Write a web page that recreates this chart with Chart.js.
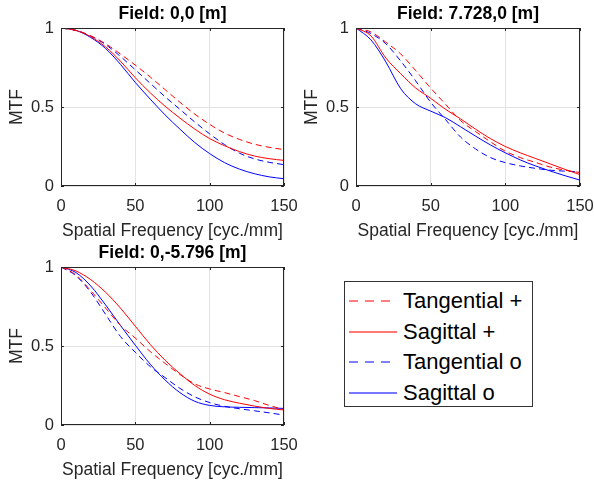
<!DOCTYPE html>
<html>
<head>
<meta charset="utf-8">
<script src="https://cdn.jsdelivr.net/npm/chart.js@4.4.1/dist/chart.umd.min.js"></script>
<style>
  body { margin: 0; background: #fff; }
  #wrap { position: relative; width: 594px; height: 480px; overflow: hidden; }
  canvas { position: absolute; }
  #legend {
    position: absolute; left: 344px; top: 281px; width: 187px; height: 124px;
    border: 1px solid #333; font-family: "Liberation Sans", Arial, sans-serif;
    font-size: 22px; color: #000;
  }
  .row { position: absolute; left: 4px; height: 30px; line-height: 30px; white-space: nowrap; }
  .row svg { position: absolute; left: 0; top: 0; }
  .row span { position: absolute; left: 54px; top: 0; }
</style>
</head>
<body>
<div id="wrap">
  <canvas id="c1" width="300" height="244" style="left:0;top:0"></canvas>
  <canvas id="c2" width="299" height="244" style="left:295px;top:0"></canvas>
  <canvas id="c3" width="300" height="244" style="left:0;top:239px"></canvas>
  <div id="legend"></div>
</div>
<script>
// data
const freq = [0, 10, 20, 30, 40, 50, 60, 70, 80, 90, 100, 110, 120, 130, 140, 150];
const seriesNames = ["Tangential +", "Sagittal +", "Tangential o", "Sagittal o"];
const titles = ["Field: 0,0 [m]", "Field: 7.728,0 [m]", "Field: 0,-5.796 [m]"];

// Field 0,0
const tanPlus1 = [1, 0.985, 0.95, 0.9, 0.835, 0.765, 0.69, 0.61, 0.53, 0.455, 0.39, 0.335, 0.295, 0.265, 0.245, 0.23];
const sagPlus1 = [1, 0.985, 0.945, 0.88, 0.79, 0.685, 0.59, 0.505, 0.43, 0.36, 0.3, 0.255, 0.218, 0.19, 0.173, 0.162];
const tanO1 = [1, 0.985, 0.95, 0.895, 0.82, 0.735, 0.65, 0.565, 0.485, 0.405, 0.33, 0.262, 0.208, 0.172, 0.15, 0.135];
const sagO1 = [1, 0.985, 0.94, 0.87, 0.77, 0.655, 0.55, 0.45, 0.36, 0.275, 0.205, 0.148, 0.107, 0.078, 0.058, 0.046];

// Field 7.728,0
const tanPlus2 = [1, 0.975, 0.91, 0.835, 0.73, 0.62, 0.517, 0.414, 0.345, 0.28, 0.22, 0.18, 0.15, 0.12, 0.1, 0.085];
const sagPlus2 = [1, 0.95, 0.81, 0.71, 0.62, 0.555, 0.485, 0.425, 0.36, 0.3, 0.25, 0.21, 0.175, 0.14, 0.105, 0.072];
const tanO2 = [1, 0.965, 0.9, 0.79, 0.665, 0.53, 0.42, 0.31, 0.235, 0.18, 0.148, 0.127, 0.112, 0.1, 0.094, 0.09];
const sagO2 = [1, 0.925, 0.785, 0.615, 0.52, 0.474, 0.432, 0.375, 0.316, 0.26, 0.21, 0.165, 0.128, 0.095, 0.065, 0.037];

// Field 0,-5.796
const tanPlus3 = [1, 0.95, 0.85, 0.74, 0.63, 0.55, 0.465, 0.39, 0.32, 0.26, 0.228, 0.205, 0.18, 0.155, 0.124, 0.098];
const sagPlus3 = [1, 0.975, 0.92, 0.84, 0.74, 0.625, 0.51, 0.41, 0.325, 0.25, 0.195, 0.16, 0.138, 0.12, 0.105, 0.095];
const tanO3 = [1, 0.945, 0.84, 0.7, 0.56, 0.46, 0.37, 0.3, 0.232, 0.178, 0.142, 0.118, 0.103, 0.09, 0.077, 0.063];
const sagO3 = [1, 0.965, 0.88, 0.76, 0.63, 0.505, 0.385, 0.285, 0.205, 0.15, 0.124, 0.115, 0.112, 0.11, 0.108, 0.105];

const xTicks = [0, 50, 100, 150];
const yTicks = [0, 0.5, 1];

const FONT = '"Liberation Sans", Arial, sans-serif';
const TEXT = '#262626';
const colors = ["#ff0000", "#ff0000", "#0000ff", "#0000ff"];
const dashes = [[6, 4], [], [6, 4], []];

// draws the axes box on all four sides plus the small inward ticks
const boxPlugin = {
  id: 'box',
  afterDatasetsDraw(chart) {
    const { ctx, chartArea: a, scales } = chart;
    ctx.save();
    ctx.strokeStyle = TEXT;
    ctx.lineWidth = 1;
    ctx.strokeRect(a.left + 0.5, a.top + 0.5, a.right - a.left - 1, a.bottom - a.top - 1);
    ctx.beginPath();
    xTicks.forEach(v => {
      const px = Math.round(scales.x.getPixelForValue(v)) + 0.5;
      ctx.moveTo(px, a.bottom); ctx.lineTo(px, a.bottom - 3);
      ctx.moveTo(px, a.top); ctx.lineTo(px, a.top + 3);
    });
    yTicks.forEach(v => {
      const py = Math.round(scales.y.getPixelForValue(v)) + 0.5;
      ctx.moveTo(a.left, py); ctx.lineTo(a.left + 3, py);
      ctx.moveTo(a.right, py); ctx.lineTo(a.right - 3, py);
    });
    ctx.stroke();
    ctx.restore();
  }
};

function makeChart(id, title, series, padRight) {
  new Chart(document.getElementById(id).getContext('2d'), {
    type: 'line',
    data: {
      datasets: series.map((vals, i) => ({
        label: seriesNames[i],
        data: freq.map((f, j) => ({ x: f, y: vals[j] })),
        borderColor: colors[i],
        borderDash: dashes[i],
        borderWidth: 1,
        pointRadius: 0,
        cubicInterpolationMode: 'monotone',
        fill: false
      }))
    },
    options: {
      responsive: false,
      animation: false,
      layout: { padding: { left: 0, right: padRight, top: 0, bottom: 0 } },
      plugins: {
        legend: { display: false },
        tooltip: { enabled: false },
        title: {
          display: true, text: title, fullSize: false, color: '#000',
          font: { family: FONT, size: 17.5, weight: 'bold' },
          padding: { top: 3.5, bottom: 3.5 }
        }
      },
      scales: {
        x: {
          type: 'linear', min: 0, max: 150,
          afterBuildTicks: s => { s.ticks = xTicks.map(v => ({ value: v })); },
          afterFit: s => { s.height = 58; s.paddingLeft = 0; s.paddingRight = 0; },
          ticks: { padding: 11, color: TEXT, font: { family: FONT, size: 16.5 }, maxRotation: 0 },
          grid: { color: '#e3e3e3', drawTicks: false },
          border: { display: false },
          title: {
            display: true, text: 'Spatial Frequency [cyc./mm]', color: TEXT,
            font: { family: FONT, size: 17.5 }, padding: { top: 0, bottom: 2.5 }
          }
        },
        y: {
          min: 0, max: 1,
          afterBuildTicks: s => { s.ticks = yTicks.map(v => ({ value: v })); },
          afterFit: s => { s.width = 61; s.paddingTop = 0; s.paddingBottom = 0; },
          ticks: { padding: 7, color: TEXT, font: { family: FONT, size: 16.5 }, callback: v => String(v) },
          grid: { color: '#e3e3e3', drawTicks: false },
          border: { display: false },
          title: {
            display: true, text: 'MTF', color: TEXT,
            font: { family: FONT, size: 17.5 }, padding: { top: 7, bottom: 0 }
          }
        }
      }
    },
    plugins: [boxPlugin]
  });
}

makeChart('c1', titles[0], [tanPlus1, sagPlus1, tanO1, sagO1], 16);
makeChart('c2', titles[1], [tanPlus2, sagPlus2, tanO2, sagO2], 14);
makeChart('c3', titles[2], [tanPlus3, sagPlus3, tanO3, sagO3], 16);

// legend box
const legend = document.getElementById('legend');
const legendDash = ["9 7", "", "9 7", ""];
seriesNames.forEach((name, i) => {
  const row = document.createElement('div');
  row.className = 'row';
  row.style.top = (4 + i * 30.5) + 'px';
  const dash = legendDash[i] ? ` stroke-dasharray="${legendDash[i]}"` : '';
  const w = legendDash[i] ? 1 : 1.6;
  row.innerHTML = `<svg width="50" height="30"><line x1="0" y1="15" x2="48" y2="15" stroke="${colors[i]}" stroke-width="${w}"${dash} opacity="${legendDash[i] ? 1 : 0.7}"/></svg><span>${name}</span>`;
  legend.appendChild(row);
});
</script>
</body>
</html>
